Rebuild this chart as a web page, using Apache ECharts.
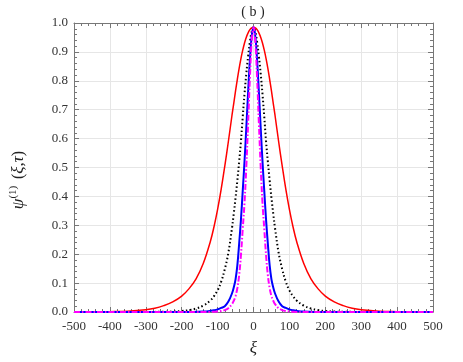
<!DOCTYPE html>
<html>
<head>
<meta charset="utf-8">
<script src="https://cdn.jsdelivr.net/npm/echarts@6/dist/echarts.min.js"></script>
<style>html,body{margin:0;padding:0;background:#fff}#c{width:463px;height:362px}</style>
</head>
<body>
<div id="c"></div>
<script>
// Shared xi sample positions
var xi = [-500,-450,-400,-350,-300,-275,-250,-225,-200,-180,-160,-140,-120,-110,-100,-90,-80,-70,-60,-55,-50,-45,-40,-35,-30,-25,-20,-15,-10,-5,0,
          5,10,15,20,25,30,35,40,45,50,55,60,70,80,90,100,110,120,140,160,180,200,225,250,275,300,350,400,450,500];
// Red solid curve
var redVals = [0.0001,0.0004,0.0012,0.003,0.008,0.013,0.022,0.035,0.055,0.080,0.115,0.168,0.245,0.295,0.355,0.425,0.505,0.590,0.680,0.722,0.765,0.805,0.843,0.877,0.906,0.931,0.951,0.966,0.977,0.983,0.985,
               0.983,0.977,0.966,0.951,0.931,0.906,0.877,0.843,0.805,0.765,0.722,0.680,0.590,0.505,0.425,0.355,0.295,0.245,0.168,0.115,0.080,0.055,0.035,0.022,0.013,0.008,0.003,0.0012,0.0004,0.0001];
// Black dotted curve
var blackVals = [0,0,0,0,0,0.0004,0.0008,0.0016,0.0035,0.0065,0.012,0.022,0.040,0.055,0.075,0.105,0.148,0.205,0.290,0.340,0.395,0.455,0.520,0.590,0.675,0.755,0.825,0.885,0.935,0.970,0.985,
                 0.970,0.935,0.885,0.825,0.755,0.675,0.590,0.520,0.455,0.395,0.340,0.290,0.205,0.148,0.105,0.075,0.055,0.040,0.022,0.012,0.0065,0.0035,0.0016,0.0008,0.0004,0,0,0,0,0];
// Blue solid curve
var blueVals = [0,0,0,0,0,0,0,0,0,0,0.0006,0.0015,0.004,0.006,0.009,0.014,0.020,0.036,0.064,0.085,0.113,0.161,0.236,0.319,0.419,0.522,0.638,0.761,0.873,0.955,0.985,
                0.955,0.873,0.761,0.638,0.522,0.419,0.319,0.236,0.161,0.113,0.085,0.064,0.036,0.020,0.014,0.009,0.006,0.004,0.0015,0.0006,0,0,0,0,0,0,0,0,0,0];
// Magenta dash-dot curve
var magentaVals = [0,0,0,0,0,0,0,0,0,0,0,0,0.0004,0.0008,0.0016,0.0033,0.0066,0.013,0.027,0.039,0.055,0.083,0.127,0.197,0.288,0.379,0.504,0.654,0.811,0.936,0.985,
                   0.936,0.811,0.654,0.504,0.379,0.288,0.197,0.127,0.083,0.055,0.039,0.027,0.013,0.0066,0.0033,0.0016,0.0008,0.0004,0,0,0,0,0,0,0,0,0,0,0,0];
var xTicks = [-500,-400,-300,-200,-100,0,100,200,300,400,500];
var yTicks = [0.0,0.1,0.2,0.3,0.4,0.5,0.6,0.7,0.8,0.9,1.0];

function pairs(v){ return xi.map(function(x,i){ return [x, v[i]]; }); }

var serif = '"Liberation Serif", "DejaVu Serif", serif';
var frame = '#777';
var chart = echarts.init(document.getElementById('c'), null, {renderer:'canvas'});
function frameAxis(extra){
  var a = {
    axisLine: {show: true, onZero: false, lineStyle: {color: frame, width: 1}},
    axisTick: {show: true, inside: true, length: 5, lineStyle: {color: frame}},
    minorTick: {show: true, splitNumber: 5, length: 3, lineStyle: {color: frame}}
  };
  for (var k in extra) a[k] = extra[k];
  return a;
}
chart.setOption({
  animation: false,
  backgroundColor: '#fff',
  grid: {left: 74, right: 30, top: 23, bottom: 45},
  graphic: [{
    type: 'text', x: 253, y: 12,
    style: {text: '( b )', fontFamily: serif, fontSize: 14, fill: '#222', align: 'center', verticalAlign: 'middle'}
  },{
    type: 'text', x: 19, y: 180, rotation: Math.PI / 2,
    style: {
      text: '{i|ψ}{s|(1)}  {n|(}{i|ξ,τ}{n|)}', align: 'center', verticalAlign: 'middle',
      rich: {
        i: {fontFamily: serif, fontStyle: 'italic', fontSize: 17, fill: '#222'},
        n: {fontFamily: serif, fontSize: 16, fill: '#222'},
        s: {fontFamily: serif, fontSize: 11, fill: '#222', padding: [0,0,12,0]}
      }
    }
  }],
  xAxis: [frameAxis({
    type: 'value', min: -500, max: 500, interval: 100,
    name: 'ξ', nameLocation: 'middle', nameGap: 28,
    nameTextStyle: {fontFamily: serif, fontStyle: 'italic', fontSize: 17, color: '#222'},
    axisLabel: {fontFamily: serif, fontSize: 13, color: '#333', margin: 8,
      formatter: function(v){ return xTicks.indexOf(v) >= 0 ? String(v) : ''; }},
    splitLine: {show: true, lineStyle: {color: '#e6e6e6', width: 1}}
  }), frameAxis({
    type: 'value', min: -500, max: 500, interval: 100, position: 'top',
    axisLabel: {show: false}, splitLine: {show: false}
  })],
  yAxis: [frameAxis({
    type: 'value', min: 0, max: 1, interval: 0.1,
    axisLabel: {fontFamily: serif, fontSize: 13, color: '#333', margin: 6,
      formatter: function(v){ return v.toFixed(1); }},
    splitLine: {show: true, lineStyle: {color: '#e6e6e6', width: 1}}
  }), frameAxis({
    type: 'value', min: 0, max: 1, interval: 0.1, position: 'right',
    axisLabel: {show: false}, splitLine: {show: false}
  })],
  series: [
    {type: 'line', data: pairs(redVals), smooth: 0.4, showSymbol: false, lineStyle: {color: '#ff0000', width: 1.5}},
    {type: 'line', data: pairs(blackVals), smooth: 0.4, showSymbol: false, lineStyle: {color: '#000000', width: 2, type: [1.5, 2.5]}},
    {type: 'line', data: pairs(blueVals), smooth: 0.4, showSymbol: false, lineStyle: {color: '#0000ff', width: 2}},
    {type: 'line', data: pairs(magentaVals), smooth: 0.4, showSymbol: false, lineStyle: {color: '#ff00ff', width: 2, type: [6, 2, 1.5, 2]}}
  ]
});
</script>
</body>
</html>
